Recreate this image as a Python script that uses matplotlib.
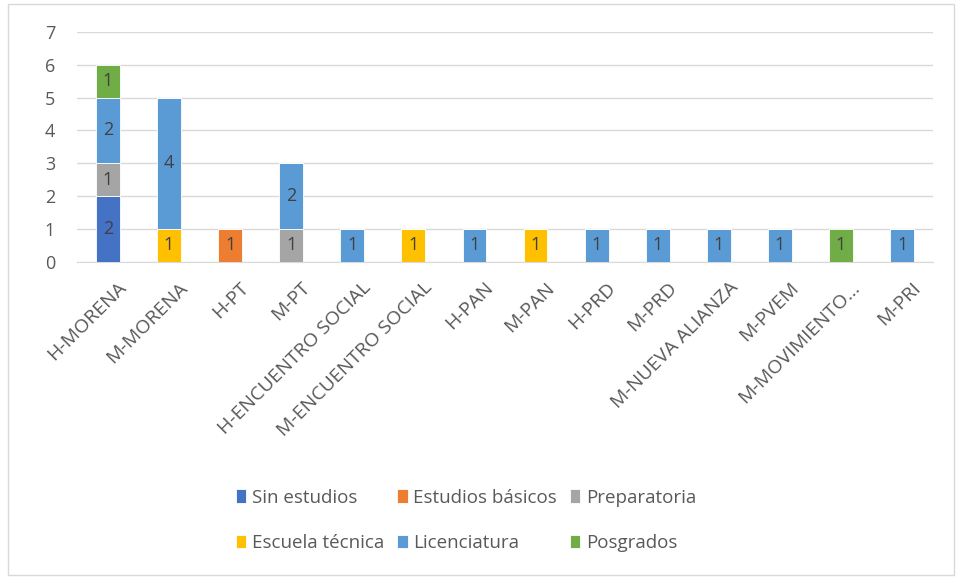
import numpy as np
import matplotlib.pyplot as plt
import matplotlib.transforms as mtransforms
from matplotlib.patches import Rectangle

plt.rcParams['font.family'] = ['Open Sans', 'DejaVu Sans']

categories = ['H-MORENA', 'M-MORENA', 'H-PT', 'M-PT', 'H-ENCUENTRO SOCIAL',
              'M-ENCUENTRO SOCIAL', 'H-PAN', 'M-PAN', 'H-PRD', 'M-PRD',
              'M-NUEVA ALIANZA', 'M-PVEM', 'M-MOVIMIENTO...', 'M-PRI']
series_names = ['Sin estudios', 'Estudios básicos', 'Preparatoria',
                'Escuela técnica', 'Licenciatura', 'Posgrados']
sin_estudios = [2, 0, 0, 0, 0, 0, 0, 0, 0, 0, 0, 0, 0, 0]
estudios_basicos = [0, 0, 1, 0, 0, 0, 0, 0, 0, 0, 0, 0, 0, 0]
preparatoria = [1, 0, 0, 1, 0, 0, 0, 0, 0, 0, 0, 0, 0, 0]
escuela_tecnica = [0, 1, 0, 0, 0, 1, 0, 1, 0, 0, 0, 0, 0, 0]
licenciatura = [2, 4, 0, 2, 1, 0, 1, 0, 1, 1, 1, 1, 0, 1]
posgrados = [1, 0, 0, 0, 0, 0, 0, 0, 0, 0, 0, 0, 1, 0]
colors = ['#4472C4', '#ED7D31', '#A5A5A5', '#FFC000', '#5B9BD5', '#70AD47']

series = [sin_estudios, estudios_basicos, preparatoria,
          escuela_tecnica, licenciatura, posgrados]

fig = plt.figure(figsize=(9.61, 5.78), dpi=100)
ax = fig.add_axes([0.0805, 0.547, 0.890, 0.398])

x = np.arange(len(categories))
bottom = np.zeros(len(categories))
handles = []
for name, vals, col in zip(series_names, series, colors):
    vals = np.array(vals, dtype=float)
    bars = ax.bar(x, vals, 0.39, bottom=bottom, color=col, label=name,
                  edgecolor='white', linewidth=0.6, zorder=3)
    handles.append(bars)
    for b, v, bt in zip(bars, vals, bottom):
        if v > 0:
            ax.text(b.get_x() + b.get_width() / 2, bt + v / 2, '%d' % v,
                    ha='center', va='center', fontsize=13, color='#404040',
                    zorder=4)
    bottom += vals

ax.set_xlim(-0.5, len(categories) - 0.5)
ax.set_ylim(0, 7)
ax.set_yticks(range(8))
ax.yaxis.grid(True, color='#D9D9D9', linewidth=1, zorder=0)
for s in ['top', 'right', 'left']:
    ax.spines[s].set_visible(False)
ax.spines['bottom'].set_color('#D9D9D9')
ax.tick_params(axis='both', length=0, colors='#595959')
ax.tick_params(axis='y', pad=16, labelsize=13)
ax.set_xticks(x)
ax.set_xticklabels(categories, rotation=45, ha='right', rotation_mode='anchor',
                   fontsize=14)
ax.tick_params(axis='x', pad=12)
# nudge the slanted labels to the right a bit
shift = mtransforms.ScaledTranslation(7 / 72, 0, fig.dpi_scale_trans)
for lbl in ax.get_xticklabels():
    lbl.set_transform(lbl.get_transform() + shift)

# row-wise legend order like the original
order = [0, 3, 1, 4, 2, 5]
fig.legend([handles[i] for i in order], [series_names[i] for i in order],
           loc='center', bbox_to_anchor=(0.485, 0.10), ncol=3, frameon=False,
           fontsize=13.5, handlelength=0.55, handleheight=0.7, handletextpad=0.3,
           columnspacing=0.7, labelspacing=1.45, labelcolor='#595959')

fig.patches.append(Rectangle((0.008, 0.005), 0.985, 0.988,
                             transform=fig.transFigure, fill=False,
                             edgecolor='#D9D9D9', linewidth=1))

fig.savefig('out.png', dpi=100)
